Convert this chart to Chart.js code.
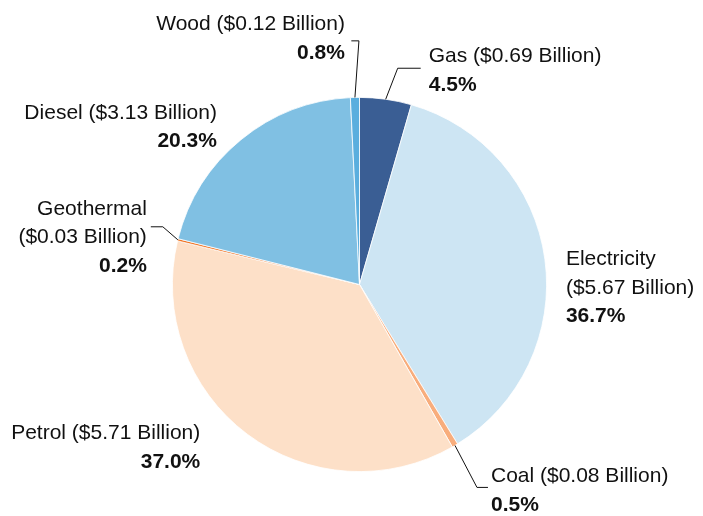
<!DOCTYPE html>
<html>
<head>
<meta charset="utf-8">
<script src="https://cdn.jsdelivr.net/npm/chart.js@4"></script>
<style>
  html, body { margin: 0; padding: 0; background: #fff; }
  #wrap { width: 703px; height: 516px; position: relative; }
</style>
</head>
<body>
<div id="wrap"><canvas id="energyChart"></canvas></div>
<script>
// Data
const sources = ['Gas', 'Electricity', 'Coal', 'Petrol', 'Geothermal', 'Diesel', 'Wood'];
const spendBillion = [0.69, 5.67, 0.08, 5.71, 0.03, 3.13, 0.12];
const sharePct = ['4.5%', '36.7%', '0.5%', '37.0%', '0.2%', '20.3%', '0.8%'];
const sliceColors = ['#3a5e94', '#cde5f3', '#f8ad7c', '#fde0c8', '#f07424', '#80c0e3', '#5aaede'];

// Label placement, offsets from the outer middle of each slice
const labelLayout = {
  Gas:        { align: 'left',  dx: 43,  dy: -37,  split: false, elbow: [12, -31], end: [35, -31] },
  Electricity:{ align: 'left',  dx: 21,  dy: 6,    split: true },
  Coal:       { align: 'left',  dx: 36,  dy: 37,   split: false, elbow: [22, 42], end: [33, 42] },
  Petrol:     { align: 'right', dx: -47, dy: 5,    split: false },
  Geothermal: { align: 'right', dx: -31, dy: -25,  split: true, elbow: [-15, -13], end: [-27, -13] },
  Diesel:     { align: 'right', dx: -24, dy: -21,  split: false },
  Wood:       { align: 'right', dx: -10, dy: -67,  split: false, elbow: [4, -56.6], end: [-3.6, -56.6] }
};

const FONT = '"Liberation Sans", Arial, Helvetica, sans-serif';
const LINE_H = 28.5;

const outsideLabels = {
  id: 'outsideLabels',
  afterDatasetsDraw(chart) {
    const ctx = chart.ctx;
    const arcs = chart.getDatasetMeta(0).data;
    ctx.save();
    arcs.forEach((arc, i) => {
      const name = sources[i];
      const lay = labelLayout[name];
      const mid = (arc.startAngle + arc.endAngle) / 2;
      const ax = arc.x + Math.cos(mid) * arc.outerRadius;
      const ay = arc.y + Math.sin(mid) * arc.outerRadius;

      if (lay.elbow) {
        ctx.beginPath();
        ctx.strokeStyle = '#111';
        ctx.lineWidth = 1;
        ctx.moveTo(ax, ay);
        ctx.lineTo(ax + lay.elbow[0], ay + lay.elbow[1]);
        ctx.lineTo(ax + lay.end[0], ay + lay.end[1]);
        ctx.stroke();
      }

      const money = '($' + spendBillion[i].toFixed(2) + ' Billion)';
      const lines = lay.split ? [name, money] : [name + ' ' + money];
      ctx.textAlign = lay.align;
      ctx.textBaseline = 'alphabetic';
      ctx.fillStyle = '#111';
      const tx = ax + lay.dx;
      let ty = ay + lay.dy;
      ctx.font = '21px ' + FONT;
      lines.forEach(t => { ctx.fillText(t, tx, ty); ty += LINE_H; });
      ctx.font = 'bold 21px ' + FONT;
      ctx.fillText(sharePct[i], tx, ty);
    });
    ctx.restore();
  }
};

new Chart(document.getElementById('energyChart'), {
  type: 'pie',
  data: {
    labels: sources,
    datasets: [{
      data: spendBillion,
      backgroundColor: sliceColors,
      borderColor: '#ffffff',
      borderWidth: 0.8
    }]
  },
  options: {
    responsive: true,
    maintainAspectRatio: false,
    animation: false,
    layout: { padding: { left: 172, right: 156, top: 97, bottom: 44 } },
    plugins: { legend: { display: false }, tooltip: { enabled: false } }
  },
  plugins: [outsideLabels]
});
</script>
</body>
</html>
